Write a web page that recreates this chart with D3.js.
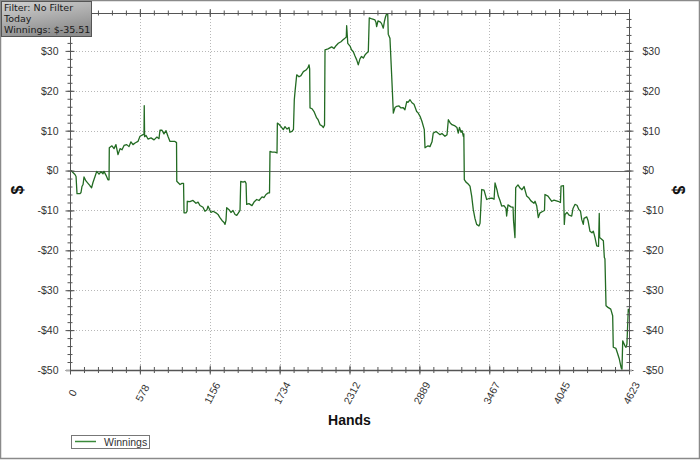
<!DOCTYPE html>
<html><head><meta charset="utf-8">
<script src="https://cdn.jsdelivr.net/npm/d3@7"></script>
<style>body{margin:0;background:#fff}svg{display:block}</style>
</head><body><svg id="c" width="700" height="461"></svg>
<script>
const hands=[0,8,41,50,58,83,91,99,108,116,132,149,165,179,190,207,221,240,256,273,281,298,314,323,325,347,364,380,397,414,430,447,469,488,504,521,538,562,579,604,612,614,617,629,645,670,695,719,736,744,761,777,794,810,827,868,881,883,893,910,926,939,943,959,968,970,992,1017,1042,1059,1075,1100,1116,1133,1141,1166,1183,1207,1224,1240,1257,1274,1282,1290,1296,1315,1331,1348,1365,1379,1389,1406,1412,1431,1447,1456,1461,1480,1505,1522,1544,1563,1588,1604,1621,1640,1650,1654,1671,1695,1712,1715,1728,1745,1764,1778,1795,1811,1819,1836,1848,1855,1861,1875,1894,1910,1930,1952,1968,1977,1982,1985,2001,2018,2040,2051,2068,2084,2095,2105,2109,2134,2164,2183,2200,2219,2241,2258,2274,2285,2288,2293,2297,2316,2328,2343,2357,2371,2384,2398,2411,2426,2440,2452,2467,2475,2498,2522,2531,2536,2547,2564,2576,2591,2601,2609,2627,2632,2646,2660,2671,2674,2688,2702,2721,2737,2754,2770,2785,2795,2812,2828,2845,2867,2878,2895,2911,2930,2936,2961,2977,2994,3004,3027,3043,3060,3076,3101,3118,3129,3143,3159,3184,3200,3211,3221,3234,3242,3253,3257,3261,3275,3291,3308,3322,3335,3349,3363,3382,3391,3405,3424,3446,3465,3490,3507,3515,3531,3542,3556,3570,3589,3606,3611,3622,3647,3664,3668,3680,3686,3705,3722,3738,3755,3777,3796,3812,3837,3846,3860,3873,3887,3912,3924,3928,3953,3984,4003,4036,4056,4061,4081,4088,4094,4110,4127,4149,4160,4176,4193,4209,4222,4232,4245,4251,4273,4284,4300,4317,4328,4342,4356,4371,4377,4380,4397,4411,4419,4424,4433,4449,4472,4488,4493,4515,4526,4543,4557,4565,4571,4590,4598,4606,4617,4623];
const winnings=[0,0,-1,-1.5,-5.8,-5.8,-5.5,-4,-3.5,-1.6,-2.6,-3.2,-3.8,-4.3,-3,-1.5,-0.2,-0.9,-0.3,-0.8,-0.2,-1.2,-2.3,-2.3,5.7,6.2,5.5,6.5,4,5.5,5.2,6.3,6.5,6.0,7.2,6.5,6.9,7.3,8.6,9,9,16.25,8.5,8.8,7.9,8.2,7.7,8.4,8.0,10.1,10.1,9.2,10,8.6,7.3,7.3,7.0,-2.7,-3,-3.5,-3.2,-3.2,-10.6,-10.6,-10.2,-7.7,-7.8,-7.5,-8.2,-7.9,-8.75,-9.2,-10.2,-9.8,-8.9,-10.5,-10.2,-10.6,-11,-11.8,-12.5,-13,-13.5,-12.5,-9.3,-9.8,-10.5,-10,-11,-11.25,-10.8,-10,-2.7,-2.9,-2.7,-3.2,-8.5,-8.3,-8.8,-7.9,-7.25,-7.5,-6.6,-6.8,-6,-5.6,-5.6,4.8,4.6,4.6,4.4,11.9,11.6,11,10.25,11,10.4,10.8,9.6,9.8,10.3,17.75,19.8,24,23.5,23.8,24.8,25.2,25.8,26.5,25.5,15.7,15.5,14.8,13.2,12.8,11.5,11.2,10.8,11.4,30.25,30.5,31,30.6,31.3,31.9,32.3,32.8,33.2,33.5,36.3,34,31.9,31.2,30.3,29.8,28.7,27.75,26.5,28,28.6,28.2,29,29.4,29.8,38.3,38,37.75,37.1,36.1,37.5,37.3,36.9,35.7,37.5,38.5,40,34.2,33.2,24,16.5,14.4,15.8,16.1,16.2,15.7,15.8,15.25,17.3,17.1,17.75,17.0,16.6,14.8,14.5,13.6,12.3,10.25,5.7,6.2,6.0,7.2,9.4,9.8,9.4,9,9.3,8.6,9.0,12.75,12.0,11.5,11.2,10.8,9.4,10.8,9.6,10.0,8.6,9.2,-2.25,-2.9,-3.3,-3.9,-6.4,-9.75,-12,-13.5,-13.9,-13.2,-4.75,-4.9,-7.25,-7,-6.9,-7.2,-3.1,-4.8,-6.4,-7.5,-8.9,-8.8,-9.5,-11.4,-8.6,-9.1,-9.2,-12.5,-16.8,-4.3,-3.6,-4.4,-4.8,-4.0,-6.4,-6.9,-7.6,-8.2,-7.7,-8.9,-11.8,-10.6,-10.2,-10,-6,-6.4,-7.7,-7.4,-7.7,-8.0,-3.9,-3.8,-13.5,-11.0,-10.5,-11.2,-11.4,-9.5,-8.5,-8.7,-9.8,-10.2,-12.25,-13.5,-12,-11.6,-12.5,-15.2,-15.6,-15.2,-16.8,-18.9,-19,-10.75,-16.8,-17.2,-17.6,-21.8,-22.1,-33.9,-34.3,-34.75,-36.4,-44.3,-44.6,-45.6,-47.25,-49.3,-50,-42.7,-44,-44.3,-43.5,-34.75,-35.51];
const xTickLabels=["0","578","1156","1734","2312","2889","3467","4045","4623"];
const yMajorTicks=[-50,-40,-30,-20,-10,0,10,20,30];
const filterLines=["Filter: No Filter","Today","Winnings: $-35.51"];
const seriesName="Winnings";
const xTitle="Hands", yTitle="$";
const totalHands=4623, yMin=-50, yMax=39.5;

const svg=d3.select("#c");
const L=70,R=629,T=13,B=370;
const x=d3.scaleLinear().domain([0,totalHands]).range([L,R]);
const y=d3.scaleLinear().domain([yMin,yMax]).range([B,T]);
const xMajor=xTickLabels.map((d,i)=>i*totalHands/(xTickLabels.length-1));
const xMinor=d3.range(0,(xTickLabels.length-1)*5+1).map(i=>i*totalHands/((xTickLabels.length-1)*5));
const yMinor=d3.range(yMin,yMax,2);
const fmt=d=>d<0?"-$"+(-d):"$"+d;

// outer frame
svg.append("rect").attr("x",0.5).attr("y",0.5).attr("width",699).attr("height",458)
  .attr("fill","#fff").attr("stroke","#8a8a8a").attr("stroke-width",1.5);

// grid
const g=svg.append("g");
g.selectAll(".gx").data(xMajor.slice(1,-1)).join("line")
  .attr("x1",d=>Math.round(x(d))+0.5).attr("x2",d=>Math.round(x(d))+0.5).attr("y1",T).attr("y2",B)
  .attr("stroke","#b8b8b8").attr("stroke-dasharray","1,2");
g.selectAll(".gy").data(yMajorTicks.filter(d=>d!==0&&d!==yMin)).join("line")
  .attr("y1",d=>Math.round(y(d))+0.5).attr("y2",d=>Math.round(y(d))+0.5).attr("x1",L).attr("x2",R)
  .attr("stroke","#b8b8b8").attr("stroke-dasharray","1,2");
g.append("line").attr("x1",L).attr("x2",R).attr("y1",Math.round(y(0))+0.5).attr("y2",Math.round(y(0))+0.5)
  .attr("stroke","#6a6a6a").attr("stroke-width",1);

// line
svg.append("clipPath").attr("id","clip").append("rect").attr("x",L).attr("y",T).attr("width",R-L).attr("height",B-T);
const pts=hands.map((h,i)=>[h,winnings[i]]);
svg.append("path").attr("clip-path","url(#clip)").datum(pts)
  .attr("d",d3.line().x(d=>x(d[0])).y(d=>y(d[1])))
  .attr("fill","none").attr("stroke","#236b23").attr("stroke-width",1.3).attr("stroke-linejoin","round");

// axes
function styleAxis(sel){sel.selectAll(".domain").attr("stroke","#555");sel.selectAll(".tick line").attr("stroke","#555");
  sel.selectAll("text").attr("fill","#333").style("font-family","'Liberation Sans',Arial,sans-serif").style("font-size","10.5px");}
function crossTicks(axisFn,scale,vals,size,tx,ty,labels,fmtf,pad){
  const a1=svg.append("g").attr("transform",`translate(${tx},${ty})`)
    .call(axisFn[0](scale).tickValues(vals).tickSizeInner(size).tickSizeOuter(0).tickPadding(pad||3).tickFormat(labels?fmtf:()=>""));
  const a2=svg.append("g").attr("transform",`translate(${tx},${ty})`)
    .call(axisFn[1](scale).tickValues(vals).tickSizeInner(size).tickSizeOuter(0).tickFormat(()=>""));
  styleAxis(a1);styleAxis(a2);return a1;
}
// left
crossTicks([d3.axisLeft,d3.axisRight],y,yMinor,2.5,L,0,false);
crossTicks([d3.axisLeft,d3.axisRight],y,yMajorTicks,4.5,L,0,true,fmt,7);
// right
crossTicks([d3.axisLeft,d3.axisRight],y,yMinor,2.5,R,0,false);
crossTicks([d3.axisRight,d3.axisLeft],y,yMajorTicks,4.5,R,0,true,fmt,9);
// top
crossTicks([d3.axisTop,d3.axisBottom],x,xMinor,2.5,0,T,false);
crossTicks([d3.axisTop,d3.axisBottom],x,xMajor,4,0,T,false);
// bottom
svg.append("line").attr("x1",L-4).attr("x2",R+3).attr("y1",B+0.5).attr("y2",B+0.5).attr("stroke","#aaa").attr("stroke-width",2);
crossTicks([d3.axisTop,d3.axisBottom],x,xMinor,3,0,B,false);
const xb=crossTicks([d3.axisBottom,d3.axisTop],x,xMajor,4.5,0,B,true,(d,i)=>xTickLabels[i]);
xb.selectAll(".tick text").attr("x",0).attr("y",0).attr("dy","0.35em").attr("text-anchor","middle")
  .attr("transform","translate(2,23) rotate(-62)");

// titles
svg.append("text").attr("x",(L+R)/2).attr("y",425).attr("text-anchor","middle")
  .style("font-family","'Liberation Sans',Arial,sans-serif").style("font-size","14px").style("font-weight","bold").attr("fill","#111").text(xTitle);
svg.append("text").attr("transform","translate(23,190) rotate(-90)").attr("text-anchor","middle")
  .style("font-family","'Liberation Sans',Arial,sans-serif").style("font-size","16px").style("font-weight","bold").attr("fill","#111").text(yTitle);
svg.append("text").attr("transform","translate(673,190) rotate(90)").attr("text-anchor","middle")
  .style("font-family","'Liberation Sans',Arial,sans-serif").style("font-size","16px").style("font-weight","bold").attr("fill","#111").text(yTitle);

// legend
const lg=svg.append("g");
lg.append("rect").attr("x",71.5).attr("y",435.5).attr("width",78).attr("height",13).attr("fill","#fff").attr("stroke","#777");
lg.append("line").attr("x1",75).attr("x2",96).attr("y1",441.5).attr("y2",441.5).attr("stroke","#3a8a3a").attr("stroke-width",1.5);
lg.append("text").attr("x",104).attr("y",446).style("font-family","'Liberation Sans',Arial,sans-serif").style("font-size","10.5px").attr("fill","#333").text(seriesName);

// filter box
const defs=svg.append("defs");
const gr=defs.append("linearGradient").attr("id","fg").attr("x1",0).attr("y1",0).attr("x2",0.4).attr("y2",1);
gr.append("stop").attr("offset","0").attr("stop-color","#d2d2d2");
gr.append("stop").attr("offset","1").attr("stop-color","#8e8e8e");
svg.append("rect").attr("x",1.5).attr("y",1.5).attr("width",90).attr("height",35).attr("fill","url(#fg)").attr("stroke","#555");
svg.selectAll(".fl").data(filterLines).join("text").attr("x",4).attr("y",(d,i)=>11+i*11)
  .style("font-family","'DejaVu Sans',Verdana,sans-serif").style("font-size","9.5px").attr("fill","#1a1a1a").text(d=>d);
</script></body></html>
